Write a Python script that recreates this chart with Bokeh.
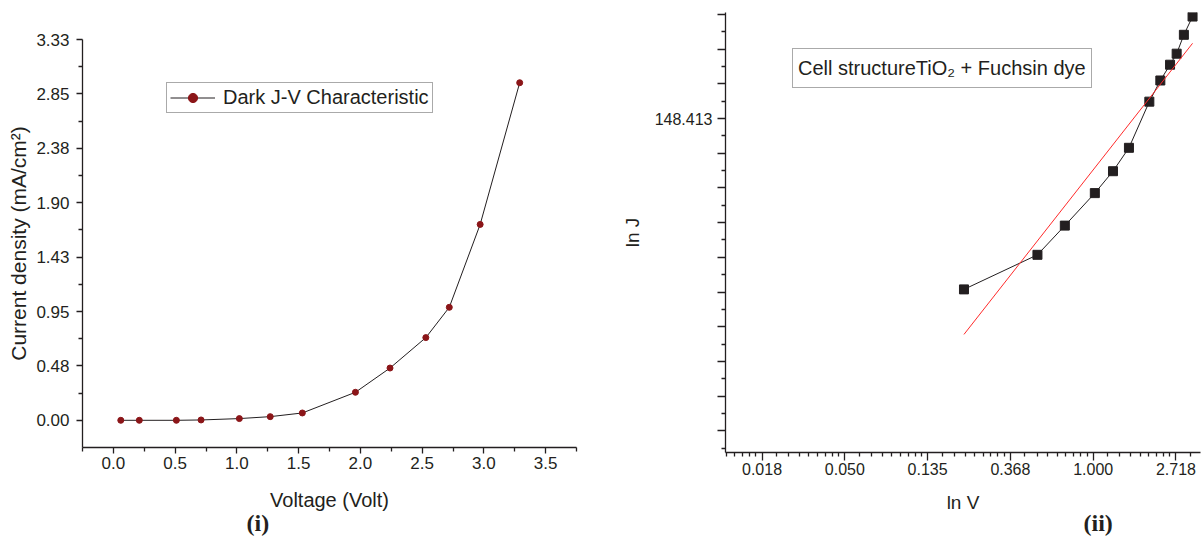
import numpy as np
from bokeh.plotting import figure
from bokeh.models import (FixedTicker, NumeralTickFormatter, CustomJSTickFormatter,
                          Legend, LegendItem, Range1d, Title)
from bokeh.layouts import row
from bokeh.embed import file_html
from bokeh.resources import INLINE

# ---------------- panel (i): dark J-V characteristic ----------------
voltage = [0.06, 0.21, 0.51, 0.71, 1.02, 1.27, 1.53, 1.96, 2.24, 2.53, 2.72, 2.97, 3.29]
current_density = [0.000, 0.000, 0.000, 0.003, 0.015, 0.032, 0.064, 0.245, 0.457,
                   0.723, 0.988, 1.713, 2.952]
i_y_max = 3.33
i_y_tick_count = 7
i_x_ticks = [0.0, 0.5, 1.0, 1.5, 2.0, 2.5, 3.0, 3.5]

# ---------------- panel (ii): ln J vs ln V ----------------
ln_voltage = [0.21, 0.51, 0.71, 1.02, 1.27, 1.54, 1.97, 2.25, 2.53, 2.74, 2.99, 3.32]
ln_current = [90.7, 100.2, 109.0, 119.7, 127.5, 136.4, 155.8, 165.6, 173.3, 178.9, 188.9, 199.1]
ii_x_decades = [-5, -4, -3, -2, -1, 0, 1]
ii_y_labelled = 5.0

INK = "#231f20"
RED = "#8b1518"
FIT = "#ff2a2a"
FONT = "Liberation Sans"
W1, W2, H = 600, 601, 539


def style_axis(ax, tick_out, minor_out, label_size, label_standoff, axis_label_standoff,
               axis_label_size):
    ax.axis_line_color = INK
    ax.axis_line_width = 1.3
    ax.major_tick_line_color = INK
    ax.major_tick_line_width = 1.3
    ax.minor_tick_line_color = INK
    ax.minor_tick_line_width = 1.3
    ax.major_tick_in = 0
    ax.major_tick_out = tick_out
    ax.minor_tick_in = 0
    ax.minor_tick_out = minor_out
    ax.major_label_text_font = FONT
    ax.major_label_text_font_size = label_size
    ax.major_label_text_color = INK
    ax.major_label_standoff = label_standoff
    ax.axis_label_text_font = FONT
    ax.axis_label_text_font_size = axis_label_size
    ax.axis_label_text_font_style = "normal"
    ax.axis_label_text_color = INK
    ax.axis_label_standoff = axis_label_standoff


def panel_tag(text, offset, standoff):
    return Title(text=text, align="left", offset=offset, standoff=standoff,
                 text_font="Liberation Serif", text_font_style="bold",
                 text_font_size="24px", text_color=INK)


# ================= left figure =================
step = i_y_max / i_y_tick_count
p1 = figure(width=W1, height=H, output_backend="svg", toolbar_location=None, title=None,
            x_range=Range1d(-0.25, 3.75), y_range=Range1d(-step / 2, i_y_max),
            min_border_left=82, min_border_right=24, min_border_top=39, min_border_bottom=92,
            frame_align=False)
p1.grid.visible = False
p1.outline_line_color = None
p1.background_fill_color = "white"

p1.xaxis.ticker = FixedTicker(ticks=i_x_ticks,
                              minor_ticks=[t - 0.25 for t in i_x_ticks] + [i_x_ticks[-1] + 0.25])
p1.xaxis.formatter = NumeralTickFormatter(format="0.0")
p1.yaxis.ticker = FixedTicker(ticks=[k * step for k in range(i_y_tick_count + 1)],
                              minor_ticks=[(k + 0.5) * step for k in range(i_y_tick_count)])
p1.yaxis.formatter = NumeralTickFormatter(format="0.00")
p1.xaxis.axis_label = "Voltage (Volt)"
p1.yaxis.axis_label = "Current density (mA/cm\u00b2)"
style_axis(p1.xaxis[0], 6, 4, "17px", 3, 17, "20px")
style_axis(p1.yaxis[0], 6, 4, "17px", 7, 3, "21px")

line_r = p1.line(voltage, current_density, line_color=INK, line_width=1)
pts_r = p1.scatter(voltage, current_density, marker="circle", size=6,
                   fill_color=RED, line_color=RED)

leg1 = Legend(items=[LegendItem(label="Dark J-V Characteristic", renderers=[line_r, pts_r])],
              location=(84, 334), margin=0, padding=3, glyph_width=45, glyph_height=23,
              label_standoff=8, label_text_font=FONT, label_text_font_size="20px",
              label_text_color=INK, border_line_color="#555555", border_line_width=1,
              background_fill_alpha=1)
p1.add_layout(leg1)
p1.add_layout(panel_tag("(i)", 164, -12), "below")

# ================= right figure =================
p2 = figure(width=W2, height=H, output_backend="svg", toolbar_location=None, title=None,
            x_axis_type="log", y_axis_type="log",
            x_range=Range1d(np.exp(-4.441), np.exp(1.296)),
            y_range=Range1d(np.exp(4.0375), np.exp(5.3055)),
            min_border_left=125, min_border_right=1, min_border_top=12, min_border_bottom=87,
            frame_align=False)
p2.grid.visible = False
p2.outline_line_color = None
p2.background_fill_color = "white"

e = np.e
x_major = [float(np.exp(k)) for k in ii_x_decades]
x_minor = [float(np.exp(k) * (1 + j * (e - 1) / 9)) for k in ii_x_decades for j in range(1, 9)]
p2.xaxis.ticker = FixedTicker(ticks=x_major, minor_ticks=x_minor)
p2.xaxis.formatter = NumeralTickFormatter(format="0.000")

y_major = [float(np.exp(ii_y_labelled + 0.1 * k)) for k in range(-10, 5)]
y_minor = [float(np.exp(ii_y_labelled + 0.1 * k + 0.05)) for k in range(-10, 5)]
p2.yaxis.ticker = FixedTicker(ticks=y_major, minor_ticks=y_minor)
p2.yaxis.formatter = CustomJSTickFormatter(
    code="return Math.abs(Math.log(tick) - 5) < 1e-6 ? tick.toFixed(3) : '';")
p2.xaxis.axis_label = "ln V"
p2.yaxis.axis_label = "ln J"
style_axis(p2.xaxis[0], 8, 4, "16px", 2, 14, "19px")
style_axis(p2.yaxis[0], 8, 4, "16px", 5, 9, "19px")

p2.line(ln_voltage, ln_current, line_color=INK, line_width=1)
p2.scatter(ln_voltage, ln_current, marker="square", size=9, fill_color=INK, line_color=INK)

slope, icpt = np.polyfit(np.log(ln_voltage), np.log(ln_current), 1)
fit_x = [min(ln_voltage), max(ln_voltage)]
fit_y = [float(np.exp(icpt + slope * np.log(v))) for v in fit_x]
p2.line(fit_x, fit_y, line_color=FIT, line_width=1)

dummy = p2.line([], [], line_alpha=0)
leg2 = Legend(items=[LegendItem(label="Cell structureTiO\u2082 + Fuchsin dye", renderers=[dummy])],
              location=(67, 364), margin=0, padding=5, glyph_width=0, glyph_height=28,
              label_standoff=0, label_text_font=FONT, label_text_font_size="20px",
              label_text_color=INK, border_line_color="#555555", border_line_width=1,
              background_fill_alpha=1)
p2.add_layout(leg2)
p2.add_layout(panel_tag("(ii)", 358, -16), "below")

layout = row(p1, p2)
open("out.html", "w").write(file_html(layout, INLINE))
